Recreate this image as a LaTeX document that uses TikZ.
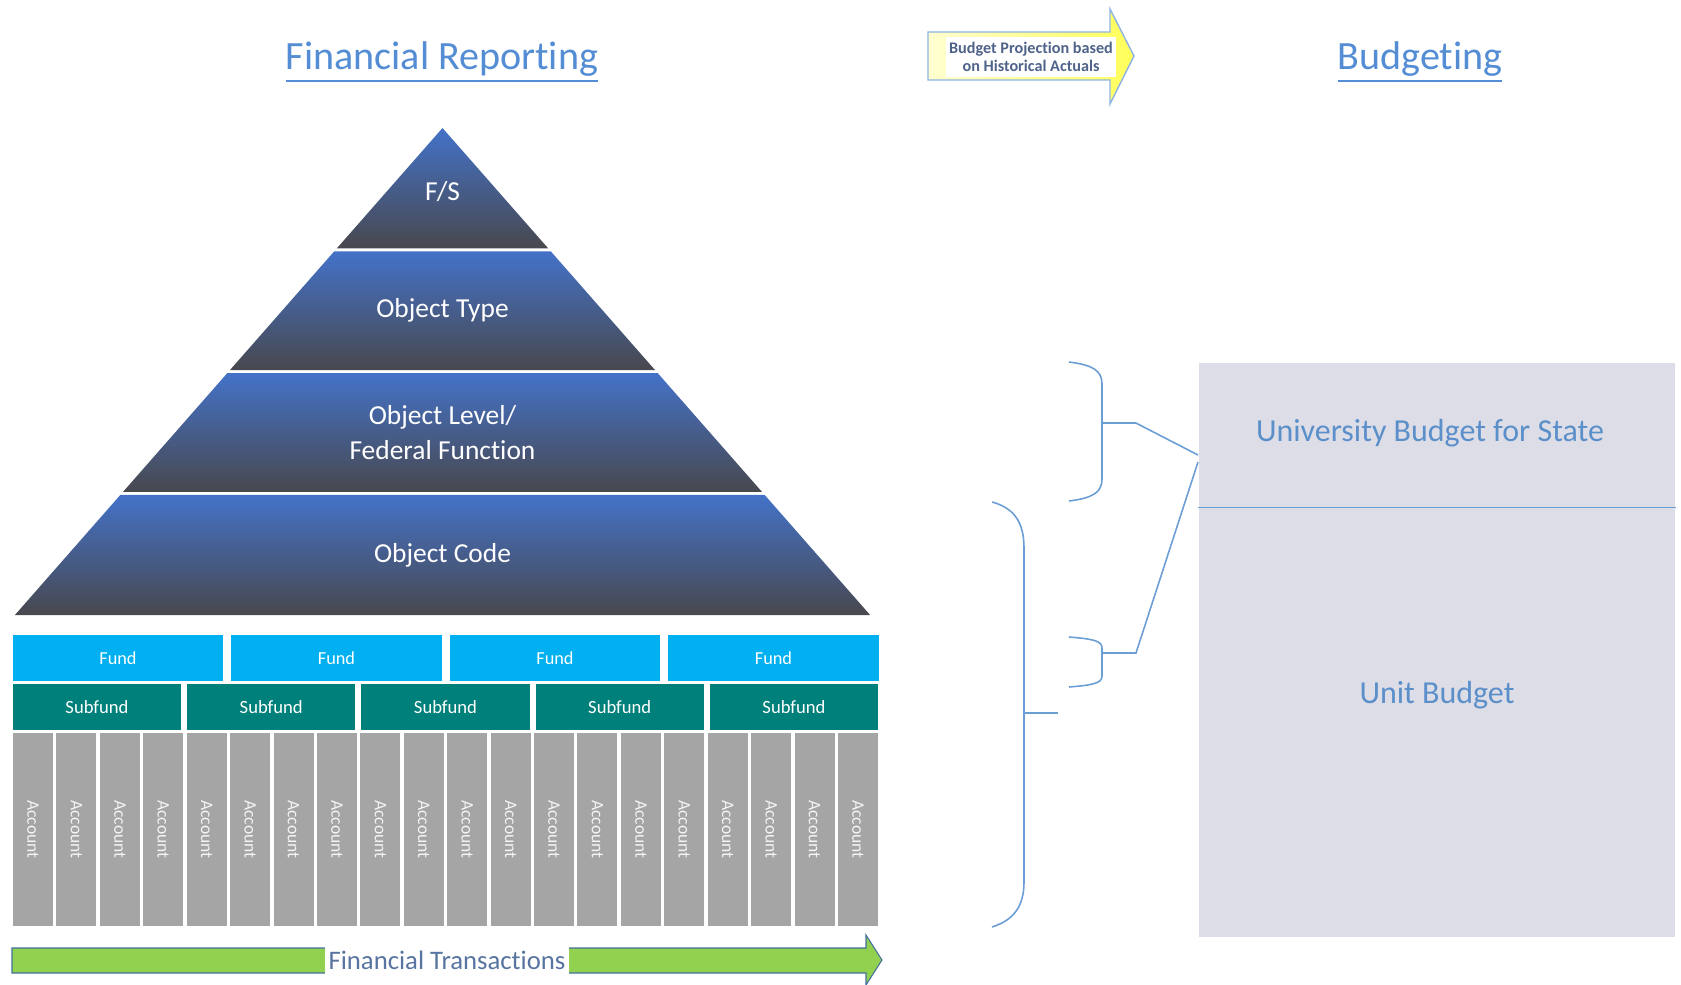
\documentclass[tikz,border=0pt]{standalone}
\usepackage{fontspec}
\setmainfont{Carlito}[Ligatures=NoCommon]

\definecolor{linkblue}{RGB}{84,141,212}
\definecolor{pyrblue}{RGB}{68,114,200}
\definecolor{pyrgray}{RGB}{72,72,78}
\definecolor{fundcyan}{RGB}{0,176,240}
\definecolor{subteal}{RGB}{0,128,122}
\definecolor{accgray}{RGB}{165,165,165}
\definecolor{budgetbg}{RGB}{221,221,231}
\definecolor{budgetblue}{RGB}{91,143,201}
\definecolor{bracecol}{RGB}{108,158,214}
\definecolor{notegray}{RGB}{78,98,138}
\definecolor{arrowedge}{RGB}{143,180,227}
\definecolor{txgreen}{RGB}{146,208,80}
\definecolor{txedge}{RGB}{65,113,156}
\definecolor{txtext}{RGB}{88,116,160}

\begin{document}
\begin{tikzpicture}[x=0.01cm,y=-0.01cm,
    heading/.style={text=linkblue,font=\fontsize{11.4}{13}\selectfont,anchor=base},
    layertext/.style={text=white,font=\fontsize{7.8}{9.8}\selectfont,align=center},
    fundbox/.style={fill=fundcyan,text=white,minimum width=2.1cm,minimum height=0.46cm,inner sep=0pt,font=\fontsize{5.2}{6}\selectfont},
    subbox/.style={fill=subteal,text=white,minimum width=1.68cm,minimum height=0.46cm,inner sep=0pt,font=\fontsize{5.3}{6}\selectfont},
    accbox/.style={fill=accgray,text=white!88!accgray,rotate=-90,minimum width=1.93cm,minimum height=0.40cm,inner sep=0pt,font=\fontsize{5}{6}\selectfont},
    brace/.style={draw=bracecol,line width=0.45pt},
    budgettext/.style={text=budgetblue,font=\fontsize{9.1}{11}\selectfont}]

\useasboundingbox (0,0) rectangle (1681,984);

% headings
\node[heading] (report) at (442,69) {\underline{Financial Reporting}};
\node[heading] (budgeting) at (1420,69) {\underline{Budgeting}};

% projection arrow
\shade[left color=yellow!18,right color=yellow!65,draw=arrowedge,line width=0.4pt]
  (928,32) -- (1110,32) -- (1110,9) -- (1134,56) -- (1110,104) -- (1110,80) -- (928,80) -- cycle;
\node[fill=white,text=notegray,font=\bfseries\fontsize{4.6}{5.2}\selectfont,align=center,inner xsep=1pt,inner ysep=1.5pt]
  (proj) at (1031,57) {Budget Projection based\\on Historical Actuals};

% pyramid, four layers
\foreach \i/\txt in {0/{F/S},1/{Object Type},2/{Object Level/\\Federal Function},3/{Object Code}}{
  \pgfmathsetmacro\yt{128+\i*121.75+(\i>0)*1.5}
  \pgfmathsetmacro\yb{128+(\i+1)*121.75-(\i<3)*1.5}
  \pgfmathsetmacro\wt{(\yt-128)*0.878}
  \pgfmathsetmacro\wb{(\yb-128)*0.878}
  \shade[top color=pyrblue,bottom color=pyrgray]
    (442.5-\wt,\yt) -- (442.5+\wt,\yt) -- (442.5+\wb,\yb) -- (442.5-\wb,\yb) -- cycle;
  \node[layertext] (layer\i) at (442.5,{(\yt+\yb)/2+(\i==0)*3}) {\txt};
}

% funds, subfunds and accounts
\foreach \i in {0,...,3}
  \node[fundbox] (fund\i) at ({118+\i*218.5},658) {Fund};
\foreach \i in {0,...,4}
  \node[subbox] (sub\i) at ({97+\i*174.25},707) {Subfund};
\foreach \i in {0,...,19}
  \node[accbox] (acc\i) at ({33+\i*43.42},829.5) {Account};

% transactions arrow
\draw[fill=txgreen,draw=txedge,line width=0.3pt]
  (12,948) -- (866,948) -- (866,935) -- (882,960) -- (866,985) -- (866,973) -- (12,973) -- cycle;
\node[fill=white,text=txtext,font=\fontsize{7.6}{9}\selectfont,inner xsep=1pt,minimum height=0.42cm]
  (trans) at (447,960) {Financial Transactions};

% budget panel
\node[fill=budgetbg,minimum width=4.76cm,minimum height=1.44cm,inner sep=0pt,anchor=north west] (statebox) at (1198,362) {};
\node[fill=budgetbg,minimum width=4.76cm,minimum height=4.30cm,inner sep=0pt,anchor=north west] (unitbox) at (1198,506) {};
\draw[bracecol,line width=0.5pt] (statebox.south west) -- (statebox.south east);
\node[budgettext] (statetxt) at (1430,433) {University Budget for State};
\node[budgettext] (unittxt) at (1437,695) {Unit Budget};

% braces
\draw[brace] (1069,362) .. controls (1092,365) and (1102,370) .. (1102,384) -- (1102,479) .. controls (1102,493) and (1092,498) .. (1069,501);
\draw[brace] (1069,637) .. controls (1094,639) and (1102,641) .. (1102,648) -- (1102,676) .. controls (1102,683) and (1094,685) .. (1069,687);
\draw[brace] (992,502) .. controls (1014,508) and (1024,522) .. (1024,548) -- (1024,882) .. controls (1024,906) and (1014,920) .. (992,927);
\coordinate (uptip) at (1102,423);
\coordinate (lowtip) at (1102,653);
\coordinate (bigtip) at (1024,713);
\coordinate (meetA) at (1198,455);
\coordinate (meetB) at (1198,462);
\draw[brace] (uptip) -- ++(34,0) -- (meetA);
\draw[brace] (lowtip) -- ++(34,0) -- (meetB);
\draw[brace] (bigtip) -- ++(34,0);
\end{tikzpicture}
\end{document}
